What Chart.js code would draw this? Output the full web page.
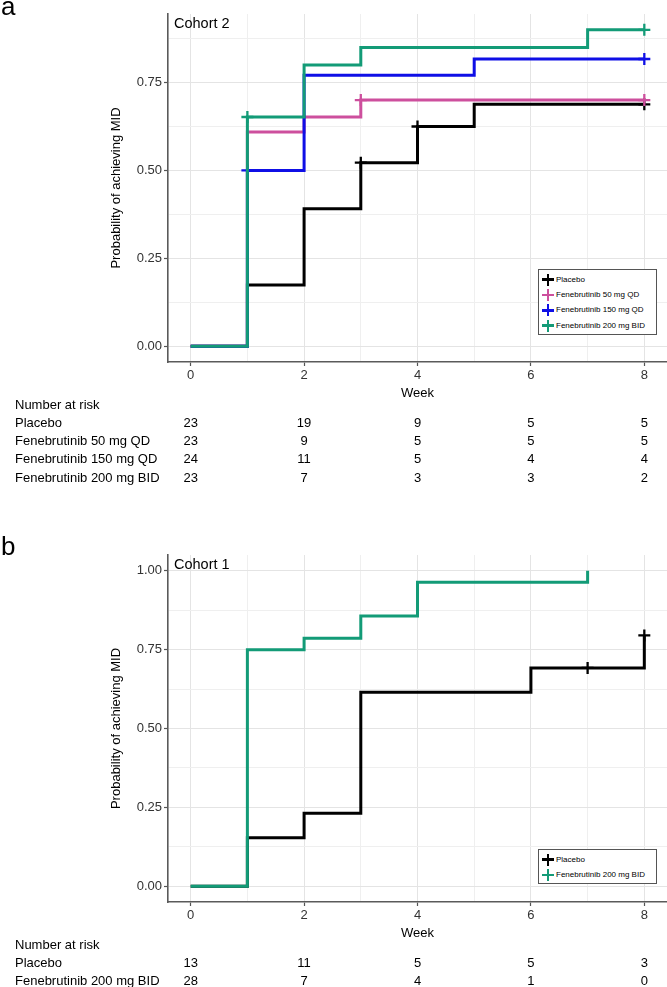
<!DOCTYPE html>
<html><head><meta charset="utf-8">
<script src="https://cdn.jsdelivr.net/npm/chart.js@4.4.1/dist/chart.umd.min.js"></script>
<style>
html,body{margin:0;padding:0;background:#fff;}
body{width:667px;height:987px;position:relative;overflow:hidden;font-family:"Liberation Sans",Arial,sans-serif;color:#000;}
canvas{position:absolute;left:0;}
.t{position:absolute;white-space:nowrap;line-height:1;}
.legend{position:absolute;border:1px solid #555;background:#fff;box-sizing:border-box;}
.lrow{position:absolute;left:0;right:0;height:15px;}
.lx{position:absolute;}
.lx i{position:absolute;display:block;}
</style></head><body>
<canvas id="c1" width="667" height="401" style="top:0"></canvas>
<canvas id="c2" width="667" height="401" style="top:540px"></canvas>
<div id="ov"></div>
<script>
// ---------- data ----------
const riskWeeks = [0, 2, 4, 6, 8];

// Panel a (Cohort 2)
const a_names = ["Placebo", "Fenebrutinib 50 mg QD", "Fenebrutinib 150 mg QD", "Fenebrutinib 200 mg BID"];
const a_colors = ["#000000", "#cd4f9d", "#0f0fe6", "#139b77"];
const a_placebo_t = [0, 1, 2, 3, 4, 5, 8];
const a_placebo_p = [0, 0.174, 0.391, 0.522, 0.625, 0.688, 0.688];
const a_placebo_ct = [3, 4, 8];
const a_placebo_cp = [0.522, 0.625, 0.688];
const a_fen50_t = [0, 1, 2, 3, 8];
const a_fen50_p = [0, 0.609, 0.652, 0.700, 0.700];
const a_fen50_ct = [3, 8];
const a_fen50_cp = [0.700, 0.700];
const a_fen150_t = [0, 1, 2, 5, 8];
const a_fen150_p = [0, 0.500, 0.771, 0.817, 0.817];
const a_fen150_ct = [1, 8];
const a_fen150_cp = [0.500, 0.817];
const a_fen200_t = [0, 1, 2, 3, 7, 8];
const a_fen200_p = [0, 0.652, 0.800, 0.850, 0.900, 0.900];
const a_fen200_ct = [1, 8];
const a_fen200_cp = [0.652, 0.900];
const a_risk_placebo = [23, 19, 9, 5, 5];
const a_risk_fen50 = [23, 9, 5, 5, 5];
const a_risk_fen150 = [24, 11, 5, 4, 4];
const a_risk_fen200 = [23, 7, 3, 3, 2];

// Panel b (Cohort 1)
const b_names = ["Placebo", "Fenebrutinib 200 mg BID"];
const b_colors = ["#000000", "#139b77"];
const b_placebo_t = [0, 1, 2, 3, 6, 8];
const b_placebo_p = [0, 0.154, 0.231, 0.615, 0.692, 0.795];
const b_placebo_ct = [7, 8];
const b_placebo_cp = [0.692, 0.795];
const b_fen200_t = [0, 1, 2, 3, 4, 7];
const b_fen200_p = [0, 0.750, 0.786, 0.857, 0.964, 1.000];
const b_fen200_ct = [];
const b_fen200_cp = [];
const b_risk_placebo = [13, 11, 5, 5, 3];
const b_risk_fen200 = [28, 7, 4, 1, 0];

const xTickLabels = ["0", "2", "4", "6", "8"];
const yTickLabels = ["0.00", "0.25", "0.50", "0.75", "1.00"];

// ---------- helpers ----------
const zip = (t, p) => t.map((x, i) => ({x: x, y: p[i]}));
const FONT = '"Liberation Sans", Arial, sans-serif';
Chart.defaults.font.family = FONT;
Chart.defaults.color = '#333';

function curveSets(list) {
  const ds = [];
  list.forEach((s, k) => {
    ds.push({type: 'line', data: zip(s.t, s.p), borderColor: s.color, borderWidth: 3,
      stepped: 'before', pointRadius: 0, fill: false, order: 2 * k + 1, borderCapStyle: 'butt', borderJoinStyle: 'miter'});
    if (s.ct.length) ds.push({type: 'line', data: zip(s.ct, s.cp), showLine: false, pointStyle: 'cross',
      pointRadius: 6, pointBorderWidth: 2.3, borderColor: s.color, backgroundColor: s.color, order: 2 * k});
  });
  return ds;
}
const isQuarter = v => Math.abs(v * 4 - Math.round(v * 4)) < 1e-6;

function makeChart(id, ds, yMin, yMax, padTop) {
  return new Chart(document.getElementById(id), {
    data: {datasets: ds},
    options: {
      responsive: false, animation: false, devicePixelRatio: 1,
      layout: {autoPadding: false, padding: {top: padTop, left: 109, right: 0, bottom: 0}},
      plugins: {legend: {display: false}, tooltip: {enabled: false}},
      scales: {
        x: {type: 'linear', min: -0.4, max: 8.4,
          afterFit: s => { s.height = 39; },
          ticks: {stepSize: 1, includeBounds: false, autoSkip: false, maxRotation: 0, padding: 2,
            font: {size: 13}, color: '#333',
            callback: v => (v % 2 === 0 ? xTickLabels[v / 2] : '')},
          grid: {color: c => (c.tick && c.tick.value % 2 === 0) ? '#e4e4e4' : '#efefef', lineWidth: 1,
            tickLength: 4, tickColor: c => (c.tick && c.tick.value % 2 === 0) ? '#555' : 'rgba(0,0,0,0)', tickWidth: 1.2},
          border: {display: true, color: '#5a5a5a', width: 1.6},
          title: {display: true, text: 'Week', font: {size: 13}, color: '#000', padding: 0}
        },
        y: {type: 'linear', min: yMin, max: yMax,
          afterFit: s => { s.width = 59; },
          ticks: {stepSize: 0.125, includeBounds: false, autoSkip: false, padding: 2,
            font: {size: 13}, color: '#333',
            callback: v => (isQuarter(v) ? yTickLabels[Math.round(v * 4)] : '')},
          grid: {color: c => (c.tick && isQuarter(c.tick.value)) ? '#e4e4e4' : '#efefef', lineWidth: 1,
            tickLength: 4, tickColor: c => (c.tick && isQuarter(c.tick.value)) ? '#555' : 'rgba(0,0,0,0)', tickWidth: 1.2},
          border: {display: true, color: '#5a5a5a', width: 1.6},
          title: {display: true, text: 'Probability of achieving MID', font: {size: 13}, color: '#000', padding: 0}
        }
      }
    }
  });
}

// order: first entry drawn on top
const chartA = makeChart('c1', curveSets([
  {t: a_fen200_t, p: a_fen200_p, ct: a_fen200_ct, cp: a_fen200_cp, color: a_colors[3]},
  {t: a_fen150_t, p: a_fen150_p, ct: a_fen150_ct, cp: a_fen150_cp, color: a_colors[2]},
  {t: a_fen50_t, p: a_fen50_p, ct: a_fen50_ct, cp: a_fen50_cp, color: a_colors[1]},
  {t: a_placebo_t, p: a_placebo_p, ct: a_placebo_ct, cp: a_placebo_cp, color: a_colors[0]}
]), -0.045, 0.945, 14);

const chartB = makeChart('c2', curveSets([
  {t: b_fen200_t, p: b_fen200_p, ct: b_fen200_ct, cp: b_fen200_cp, color: b_colors[1]},
  {t: b_placebo_t, p: b_placebo_p, ct: b_placebo_ct, cp: b_placebo_cp, color: b_colors[0]}
]), -0.05, 1.05, 15);

// ---------- overlays (text) ----------
const ov = document.getElementById('ov');
function txt(s, x, y, size, align, extra) {
  const d = document.createElement('div');
  d.className = 't';
  d.textContent = s;
  d.style.left = x + 'px';
  d.style.top = y + 'px';
  d.style.fontSize = size + 'px';
  d.style.transform = align === 'center' ? 'translate(-50%,-50%)' : 'translate(0,-50%)';
  if (extra) Object.assign(d.style, extra);
  ov.appendChild(d);
  return d;
}
function panel(chart, offTop, letter, letterTop, cohort, names, colors, risks, legendTop) {
  const area = chart.chartArea;
  const xs = chart.scales.x;
  // panel letter
  const L = document.createElement('div');
  L.className = 't'; L.textContent = letter;
  L.style.left = '1px'; L.style.top = letterTop + 'px'; L.style.fontSize = '26px';
  ov.appendChild(L);
  // cohort label
  txt(cohort, area.left + 6, offTop + area.top + 9, 14.5, 'left');
  // legend
  const lg = document.createElement('div');
  lg.className = 'legend';
  const rowH = 15.4;
  lg.style.left = '538px'; lg.style.width = '119px';
  lg.style.top = legendTop + 'px';
  lg.style.height = (names.length * rowH + 4) + 'px';
  names.forEach((n, i) => {
    const r = document.createElement('div');
    r.className = 'lrow'; r.style.top = (2 + i * rowH) + 'px';
    const x = document.createElement('div'); x.className = 'lx';
    x.style.left = '3px'; x.style.top = '1.5px'; x.style.width = '12px'; x.style.height = '12px';
    x.innerHTML = '<i style="left:0;top:4.75px;width:12px;height:2.5px;background:' + colors[i] + '"></i>' +
                  '<i style="left:4.75px;top:0;width:2.5px;height:12px;background:' + colors[i] + '"></i>';
    r.appendChild(x);
    const tt = document.createElement('div'); tt.className = 't';
    tt.textContent = n; tt.style.left = '17px'; tt.style.top = '7.5px'; tt.style.fontSize = '8px';
    tt.style.transform = 'translate(0,-50%)'; tt.style.color = '#000';
    r.appendChild(tt);
    lg.appendChild(r);
  });
  ov.appendChild(lg);
  // risk table
  const base = offTop + area.bottom;
  txt('Number at risk', 15, base + 42, 13, 'left');
  names.forEach((n, i) => {
    const y = base + 59.5 + 18.4 * i;
    txt(n, 15, y, 13, 'left');
    riskWeeks.forEach((w, j) => txt(String(risks[i][j]), xs.getPixelForValue(w), y, 13, 'center'));
  });
}
panel(chartA, 0, 'a', -7, 'Cohort 2', a_names, a_colors,
  [a_risk_placebo, a_risk_fen50, a_risk_fen150, a_risk_fen200], 269);
panel(chartB, 540, 'b', 533, 'Cohort 1', b_names, b_colors,
  [b_risk_placebo, b_risk_fen200], 849);
</script>
</body></html>
